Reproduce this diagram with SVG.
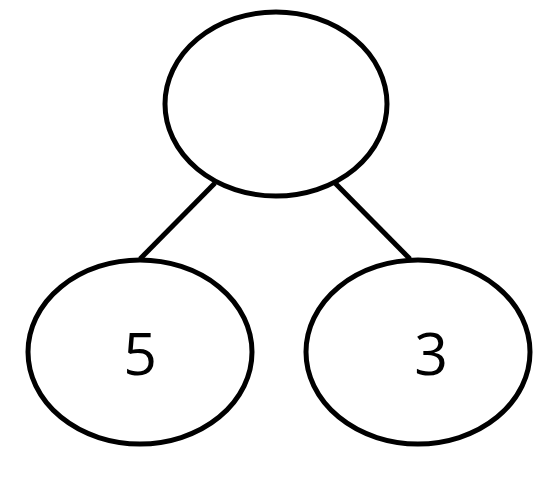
<svg xmlns="http://www.w3.org/2000/svg" width="560" height="491" viewBox="0 0 560 491">
<style>
.n{fill:#fff;stroke:#000;stroke-width:5}
.e{stroke:#000;stroke-width:5;fill:none}
.t{font-family:"Open Sans","DejaVu Sans",sans-serif;font-size:59px;fill:#000;text-anchor:middle}
</style>
<rect width="560" height="491" fill="#fff"/>
<g id="edges">
<line class="e" x1="215" y1="183" x2="140" y2="259"/>
<line class="e" x1="335" y1="183" x2="410" y2="259"/>
</g>
<g id="root"><ellipse class="n" cx="276" cy="104" rx="111" ry="92"/></g>
<g id="n5"><ellipse class="n" cx="140" cy="352" rx="112" ry="92"/><text class="t" x="140" y="375">5</text></g>
<g id="n3"><ellipse class="n" cx="418" cy="352" rx="112" ry="92"/><text class="t" x="431" y="375">3</text></g>
</svg>
